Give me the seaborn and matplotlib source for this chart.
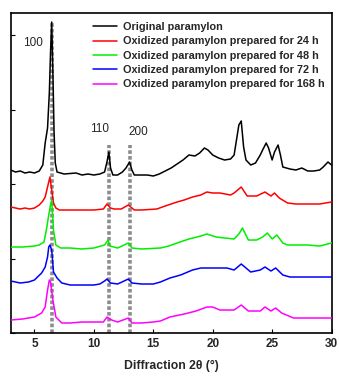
import numpy as np
import pandas as pd
import matplotlib
matplotlib.use('Agg')
import matplotlib.pyplot as plt
from matplotlib.ticker import MultipleLocator
import seaborn as sns

sns.set_style('white')
plt.rcParams['font.family'] = ['Liberation Sans', 'DejaVu Sans']

### Data (intensity above each trace's own baseline, a.u.)
labels = ['Original paramylon',
          'Oxidized paramylon prepared for 24 h',
          'Oxidized paramylon prepared for 48 h',
          'Oxidized paramylon prepared for 72 h',
          'Oxidized paramylon prepared for 168 h']
colors = ['black', 'red', '#00ee00', 'blue', 'magenta']
offsets = [160, 123, 85, 49, 11]

x_orig = [3.0, 3.4, 3.8, 4.2, 4.6, 5.0, 5.4, 5.7, 5.9, 6.1, 6.25, 6.35, 6.45, 6.55, 6.65, 6.75, 6.9,
          7.5, 8.5, 9.0, 9.5, 10.0, 10.5, 10.9, 11.1, 11.26, 11.4, 11.6, 12.0, 12.4, 12.7, 13.0, 13.2,
          13.4, 14.0, 14.5, 15.0, 15.5, 16.0, 16.5, 17.0, 17.5, 18.0, 18.5, 18.9, 19.3, 19.6, 20.0,
          20.5, 21.0, 21.5, 21.8, 22.0, 22.2, 22.4, 22.6, 22.8, 23.2, 23.6, 24.0, 24.2, 24.5, 24.7,
          25.0, 25.2, 25.5, 25.7, 25.9, 26.5, 27.0, 27.5, 28.0, 28.5, 29.0, 29.3, 29.7, 30.0]
y_orig = [3, 1, 2, 0, 1, 0, 2, 8, 30, 45, 80, 120, 151, 100, 40, 10, 1,
          -1, 0, -2, -1, -2, -1, 1, 11, 21, 5, -2, -2, 1, 5, 11, 3,
          -2, -2, -2, -3, -1, 2, 5, 9, 13, 18, 17, 20, 25, 23, 18,
          15, 13, 14, 18, 33, 48, 52, 26, 13, 8, 10, 18, 23, 30, 25,
          13, 21, 28, 18, 6, 4, 3, 5, 2, 2, 3, 6, 11, 8]

x_24h = [3.0, 3.4, 3.8, 4.2, 4.6, 5.0, 5.4, 5.7, 5.9, 6.1, 6.3, 6.45, 6.6, 6.8, 7.1, 8.0, 9.0, 10.0,
         10.8, 11.1, 11.4, 11.7, 12.3, 12.9, 13.4, 14.0, 15.3, 16.0, 17.0, 17.6, 18.3, 19.0, 19.5,
         20.0, 20.6, 21.5, 21.8, 22.1, 22.4, 22.9, 23.7, 24.4, 24.9, 25.2, 25.6, 26.3, 27.0, 27.9,
         29.0, 29.5, 30.0]
y_24h = [3, 2, 1, 2, 1, 2, 5, 9, 13, 23, 33, 20, 7, 2, 0, 0, 0, 0,
         1, 6, 2, 1, 1, 5, 0, 0, 1, 4, 8, 10, 13, 15, 18,
         17, 17, 15, 17, 20, 23, 14, 14, 18, 14, 17, 12, 7, 6, 6,
         6, 7, 8]

x_48h = [3.0, 4.0, 5.0, 5.4, 5.8, 6.0, 6.2, 6.35, 6.45, 6.6, 6.8, 7.2, 8.0, 9.0, 10.0, 10.9, 11.2,
         11.35, 12.0, 12.9, 13.2, 14.0, 15.6, 16.3, 17.0, 18.0, 19.0, 19.5, 20.3, 21.0, 21.8, 22.2,
         22.5, 23.0, 23.7, 24.2, 24.6, 25.0, 25.4, 25.9, 26.3, 27.0, 28.0, 29.0, 30.0]
y_48h = [1, 1, 2, 3, 6, 18, 33, 43, 48, 18, 3, 0, 0, -1, 0, 3, 8,
         2, 0, 5, 0, -1, 0, 2, 5, 9, 12, 14, 11, 10, 9, 14,
         20, 8, 8, 11, 15, 9, 13, 5, 3, 3, 3, 2, 5]

x_72h = [3.0, 3.8, 4.5, 5.0, 5.6, 5.9, 6.1, 6.2, 6.3, 6.45, 6.6, 6.9, 7.3, 8.0, 9.0, 10.0, 10.5,
         10.9, 11.1, 11.4, 12.0, 12.9, 13.2, 14.0, 15.0, 15.6, 16.4, 17.3, 18.3, 19.0, 20.0, 21.2,
         21.8, 22.4, 23.2, 24.0, 24.4, 24.9, 25.3, 25.9, 26.5, 27.5, 28.5, 29.5, 30.0]
y_72h = [3, 1, 2, 4, 11, 17, 27, 37, 39, 34, 12, 6, 1, -1, -1, -1, 0,
         3, 5, 1, 0, 5, 1, 0, 0, 2, 6, 9, 14, 16, 16, 16,
         14, 20, 12, 14, 17, 13, 16, 9, 7, 7, 7, 7, 7]

x_168h = [3.0, 4.0, 5.0, 5.6, 5.9, 6.1, 6.25, 6.35, 6.55, 6.8, 7.3, 8.0, 9.0, 10.0, 10.8, 11.1,
          11.5, 12.0, 12.9, 13.2, 14.0, 15.0, 15.6, 16.4, 17.6, 18.6, 19.5, 20.0, 20.6, 21.5, 21.8,
          22.4, 23.0, 24.0, 24.4, 24.9, 25.3, 25.8, 26.8, 28.0, 29.0, 30.0]
y_168h = [2, 3, 5, 9, 15, 32, 42, 40, 22, 5, -1, -1, 0, 0, 0, 5,
          2, 0, 4, -1, -1, 0, 1, 5, 8, 11, 15, 15, 12, 12, 12,
          17, 11, 11, 15, 11, 14, 9, 4, 4, 4, 4]

peak_pos = [6.5, 11.26, 13.0]
peak_top = [311, 188, 188]
peak_labels = ['100', '110', '200']

xs = [x_orig, x_24h, x_48h, x_72h, x_168h]
ys = [y_orig, y_24h, y_48h, y_72h, y_168h]

frames = []
for lab, x, y, off in zip(labels, xs, ys, offsets):
    frames.append(pd.DataFrame({'angle': x, 'intensity': np.array(y) + off, 'sample': lab}))
df = pd.concat(frames, ignore_index=True)

#%% Plot
fig = plt.figure(figsize=(3.39, 3.77), dpi=100)
ax = fig.add_axes([0.0316, 0.1167, 0.9464, 0.8488])

# reflection markers
ax.vlines(peak_pos, 0, peak_top, colors='#8c8c8c', linestyles=(0, (1, 0.6)), lw=2.6, zorder=1)

sns.lineplot(data=df, x='angle', y='intensity', hue='sample', hue_order=labels,
             palette=colors, estimator=None, sort=False, lw=1.1, ax=ax, zorder=3)

ax.text(4.88, 290, peak_labels[0], ha='center', va='center', fontsize=8.5)
ax.text(10.44, 204, peak_labels[1], ha='center', va='center', fontsize=8.5)
ax.text(13.73, 201, peak_labels[2], ha='center', va='center', fontsize=8.5)

ax.set_xlim(3, 30)
ax.set_ylim(0, 320)
ax.xaxis.set_major_locator(MultipleLocator(5))
ax.yaxis.set_major_locator(MultipleLocator(74.5))
ax.set_yticklabels([])
ax.tick_params(axis='both', direction='in', length=3, width=0.8, color='black',
               bottom=True, left=True, top=False, right=False)
for lab in ax.get_xticklabels():
    lab.set_fontweight('bold')
    lab.set_fontsize(8.5)
ax.set_xlabel('Diffraction 2θ (°)', fontsize=8.8, fontweight='bold', labelpad=7)
ax.set_ylabel('')
for sp in ax.spines.values():
    sp.set_color('black')
    sp.set_linewidth(1.2)

leg = ax.legend(loc='upper left', bbox_to_anchor=(0.2575, 0.972), frameon=False,
                fontsize=7.8, handlelength=2.2, handletextpad=0.55, labelspacing=0.4,
                borderpad=0, borderaxespad=0)
for t in leg.get_texts():
    t.set_fontweight('bold')
for h in leg.get_lines():
    h.set_linewidth(1.1)

plt.savefig('out.png', dpi=100)
